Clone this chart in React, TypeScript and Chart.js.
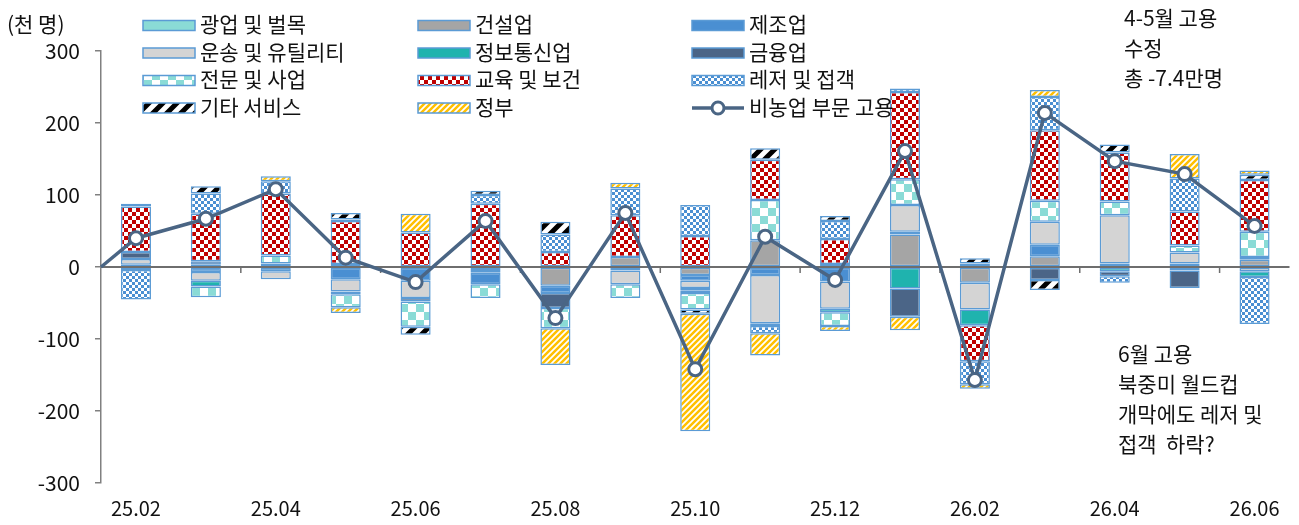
import React, { useEffect, useRef } from 'react';
import { Chart, registerables } from 'chart.js';

Chart.register(...registerables);

// ---------- data ----------
const months = ['25.02', '25.03', '25.04', '25.05', '25.06', '25.07', '25.08', '25.09', '25.10', '25.11', '25.12', '26.01', '26.02', '26.03', '26.04', '26.05', '26.06'];

const mining = [0, 0, 0, 0, 0, -4, 0, 0, 0, 0, 0, 0, 0, 0, 0, 0, 0];
const construction = [0, 3, 5, 4, 0, -4, -26, 14, -11, 37, 4, 45, -22, 15, 0, 5, 10];
const manufacturing = [3, -7, -6, -17, -19, -16, -10, -5, -8, -11, -20, 4, 5, 16, 5, 0, 4];
const transport = [8, -12, -11, -17, -24, 0, 0, -19, -10, -67, -38, 37, -37, 32, 67, 15, -6];
const information = [0, -8, 0, 0, 0, 0, 0, 0, -4, -4, -5, -30, -22, 0, -6, -5, -8];
const finance = [10, 5, 0, -4, -5, 0, -21, 0, -3, 0, 0, -39, 0, -18, -7, -24, 0];
const professional = [-4, -15, 11, -18, -35, -19, -28, -19, -23, 56, -19, 36, 0, 29, 19, 10, 35];
const eduHealth = [63, 66, 86, 60, 48, 88, 21, 58, 43, 56, 35, 121, -50, 98, 68, 47, 72];
const leisure = [-41, 28, 17, 2, 0, 12, 24, 37, 43, -10, 25, 5, -32, 46, -9, 46, -65];
const otherServices = [4, 10, 0, 9, -11, 6, 18, 0, -6, 16, 7, 0, 7, -14, 11, 0, 7];
const government = [0, 0, 7, -8, 26, 0, -51, 8, -163, -31, -7, -19, -6, 10, 0, 34, 6];
const nonfarmTotal = [40, 67, 108, 13, -21, 64, -71, 75, -142, 42, -18, 161, -157, 214, 147, 129, 57];
const lineLeadIn = 0;

const yTicks = [-300, -200, -100, 0, 100, 200, 300];
const unitLabel = '(천 명)';
const noteTop = ['4-5월 고용', '수정', '총 -7.4만명'];
const noteBottom = ['6월 고용', '북중미 월드컵', '개막에도 레저 및', '접객  하락?'];

// ---------- styles ----------
const FONT = '"Noto Sans CJK KR", "Noto Sans", sans-serif';
const FS = 21;
const BORDER = '#5B9BD5';
const LINE = '#4A6584';
const TEXT = '#111111';
const AXIS = '#808080';

function checker(c1: string, c2: string, cell: number) {
  const cv = document.createElement('canvas');
  cv.width = cv.height = cell * 2;
  const g = cv.getContext('2d')!;
  g.fillStyle = c2;
  g.fillRect(0, 0, cell * 2, cell * 2);
  g.fillStyle = c1;
  g.fillRect(0, 0, cell, cell);
  g.fillRect(cell, cell, cell, cell);
  return g.createPattern(cv, 'repeat')!;
}

function diag(c1: string, c2: string, size: number, lw: number) {
  const cv = document.createElement('canvas');
  cv.width = cv.height = size;
  const g = cv.getContext('2d')!;
  g.fillStyle = c2;
  g.fillRect(0, 0, size, size);
  g.strokeStyle = c1;
  g.lineWidth = lw;
  g.beginPath();
  g.moveTo(-1, size + 1);
  g.lineTo(size + 1, -1);
  g.moveTo(-size / 2 - 1, size / 2 + 1);
  g.lineTo(size / 2 + 1, -size / 2 - 1);
  g.moveTo(size / 2 - 1, size * 1.5 + 1);
  g.lineTo(size * 1.5 + 1, size / 2 - 1);
  g.stroke();
  return g.createPattern(cv, 'repeat')!;
}

const nz = (arr: number[]) => arr.map((v) => (v === 0 ? null : v));

export default function App() {
  const ref = useRef<HTMLCanvasElement>(null);

  useEffect(() => {
    if (!ref.current) return;

    const series: [string, number[], any][] = [
      ['광업 및 벌목', mining, '#8ADBD6'],
      ['건설업', construction, '#A5A5A5'],
      ['제조업', manufacturing, '#4A8FD2'],
      ['운송 및 유틸리티', transport, '#D4D4D4'],
      ['정보통신업', information, '#1FB3AE'],
      ['금융업', finance, '#4B6587'],
      ['전문 및 사업', professional, checker('#8ADBD6', '#ffffff', 8)],
      ['교육 및 보건', eduHealth, checker('#C00000', '#ffffff', 4)],
      ['레저 및 접객', leisure, checker('#4A8FD2', '#ffffff', 3)],
      ['기타 서비스', otherServices, diag('#000000', '#ffffff', 14, 5)],
      ['정부', government, diag('#FFC000', '#ffffff', 6, 2.5)],
    ];

    const datasets: any[] = series.map(([label, data, bg]) => ({
      type: 'bar',
      label,
      data: nz(data),
      backgroundColor: bg,
      borderColor: BORDER,
      borderWidth: 1.5,
      borderSkipped: false,
      barPercentage: 0.43,
      categoryPercentage: 1,
      order: 1,
      stack: 'bars',
    }));

    datasets.push({
      type: 'line',
      label: '비농업 부문 고용',
      data: nonfarmTotal,
      borderColor: LINE,
      borderWidth: 3.5,
      pointRadius: 6.5,
      pointBorderWidth: 3,
      pointBackgroundColor: '#ffffff',
      pointBorderColor: LINE,
      tension: 0,
      order: 0,
      stack: 'line',
    });

    const decor = {
      id: 'decor',
      beforeDatasetDraw(chart: any, args: any) {
        const ds = chart.data.datasets[args.index];
        if (ds.type !== 'line') return;
        const { ctx, chartArea, scales } = chart;
        const y0 = scales.y.getPixelForValue(0);
        ctx.save();
        ctx.strokeStyle = '#6E6E6E';
        ctx.lineWidth = 2;
        ctx.beginPath();
        ctx.moveTo(chartArea.left, y0);
        ctx.lineTo(chartArea.right, y0);
        ctx.stroke();
        ctx.lineWidth = 1.5;
        for (let i = 1; i < months.length - 1; i += 2) {
          const xb = (scales.x.getPixelForValue(i) + scales.x.getPixelForValue(i + 1)) / 2;
          ctx.beginPath();
          ctx.moveTo(xb, y0);
          ctx.lineTo(xb, y0 + 6);
          ctx.stroke();
        }
        const meta = chart.getDatasetMeta(args.index);
        const p0 = meta.data[0];
        ctx.strokeStyle = LINE;
        ctx.lineWidth = 3.5;
        ctx.beginPath();
        ctx.moveTo(chartArea.left, scales.y.getPixelForValue(lineLeadIn));
        ctx.lineTo(p0.x, p0.y);
        ctx.stroke();
        ctx.restore();
      },
      afterDraw(chart: any) {
        const { ctx } = chart;
        ctx.save();
        ctx.font = `${FS}px ${FONT}`;
        ctx.fillStyle = TEXT;
        ctx.textBaseline = 'middle';
        ctx.textAlign = 'left';
        ctx.fillText(unitLabel, 7, 24);

        // legend
        const colX = [143, 418, 692];
        const rowY = (r: number) => 25.5 + r * 27.5;
        chart.data.datasets.forEach((ds: any, i: number) => {
          const c = i % 3;
          const r = Math.floor(i / 3);
          const x = colX[c];
          const y = rowY(r);
          if (ds.type === 'line') {
            ctx.strokeStyle = LINE;
            ctx.lineWidth = 3.5;
            ctx.beginPath();
            ctx.moveTo(x, y);
            ctx.lineTo(x + 52, y);
            ctx.stroke();
            ctx.beginPath();
            ctx.arc(x + 26, y, 6, 0, Math.PI * 2);
            ctx.fillStyle = '#ffffff';
            ctx.fill();
            ctx.lineWidth = 3;
            ctx.stroke();
          } else {
            ctx.fillStyle = ds.backgroundColor;
            ctx.fillRect(x, y - 5, 52, 10);
            ctx.strokeStyle = BORDER;
            ctx.lineWidth = 1.5;
            ctx.strokeRect(x, y - 5, 52, 10);
          }
          ctx.fillStyle = TEXT;
          ctx.fillText(ds.label, x + 57, y - 1);
        });

        noteTop.forEach((t, i) => ctx.fillText(t, 1124, 18 + i * 30));
        noteBottom.forEach((t, i) => ctx.fillText(t, 1118, 354 + i * 30));
        ctx.restore();
      },
    };

    const chart = new Chart(ref.current, {
      type: 'bar',
      data: { labels: months, datasets },
      options: {
        responsive: false,
        animation: false,
        devicePixelRatio: 1,
        layout: { padding: { top: 51, right: 8, left: 0, bottom: 0 } },
        plugins: { legend: { display: false }, tooltip: { enabled: false } },
        scales: {
          x: {
            stacked: true,
            grid: { display: false, drawTicks: false },
            border: { display: false },
            ticks: {
              autoSkip: false,
              maxRotation: 0,
              font: { family: FONT, size: FS - 1 },
              color: TEXT,
              padding: 13,
              callback: (_v: any, i: number) => (i % 2 === 0 ? months[i] : ''),
            },
            afterFit: (s: any) => {
              s.height = 42;
            },
          },
          y: {
            stacked: true,
            min: yTicks[0],
            max: yTicks[yTicks.length - 1],
            afterBuildTicks: (s: any) => {
              s.ticks = yTicks.map((v) => ({ value: v }));
            },
            ticks: { font: { family: FONT, size: FS }, color: TEXT, padding: 15 },
            grid: { drawOnChartArea: false, drawTicks: true, tickLength: 6, color: AXIS, lineWidth: 1.5 },
            border: { display: true, color: AXIS, width: 1.5 },
            afterFit: (s: any) => {
              s.width = 101;
            },
          },
        },
      } as any,
      plugins: [decor],
    });

    return () => chart.destroy();
  }, []);

  return (
    <div style={{ position: 'absolute', left: 0, top: 0, width: 1299, height: 525, background: '#fff' }}>
      <canvas ref={ref} width={1299} height={525} />
    </div>
  );
}
